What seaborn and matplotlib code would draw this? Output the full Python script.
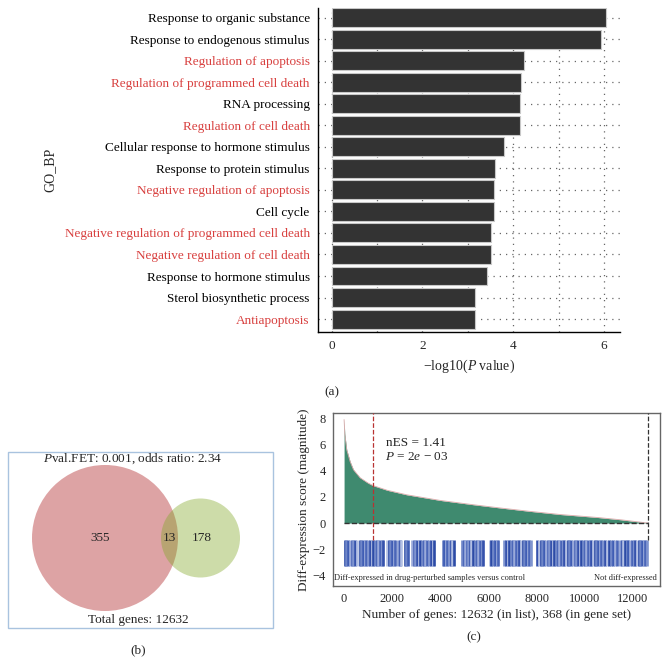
import matplotlib
matplotlib.use("Agg")
import matplotlib.pyplot as plt
from matplotlib.patches import Circle, Rectangle
import pandas as pd
import seaborn as sns

# --- data ---

# (a) GO biological process enrichment
go_terms = [
    "Response to organic substance",
    "Response to endogenous stimulus",
    "Regulation of apoptosis",
    "Regulation of programmed cell death",
    "RNA processing",
    "Regulation of cell death",
    "Cellular response to hormone stimulus",
    "Response to protein stimulus",
    "Negative regulation of apoptosis",
    "Cell cycle",
    "Negative regulation of programmed cell death",
    "Negative regulation of cell death",
    "Response to hormone stimulus",
    "Sterol biosynthetic process",
    "Antiapoptosis",
]
neg_log10_p = [6.04, 5.93, 4.24, 4.17, 4.15, 4.14, 3.79, 3.60, 3.58, 3.57,
               3.52, 3.51, 3.43, 3.15, 3.15]
apoptosis_term = [False, False, True, True, False, True, False, False, True,
                  False, True, True, False, False, True]

# (b) Venn counts
venn_counts = [355, 13, 178]
total_genes = 12632
fet_pval = 0.001
odds_ratio = 2.34

# (c) ranked diff-expression score
rank_x = [0, 30, 110, 250, 390, 665, 1000, 1220, 1800, 2600, 3990, 5370,
          6500, 7740, 9000, 10510, 11500, 12632]
score_y = [7.9, 6.8, 5.6, 4.7, 4.07, 3.46, 3.05, 2.85, 2.5, 2.16, 1.73, 1.4,
           1.15, 0.89, 0.65, 0.43, 0.25, 0.0]
leading_edge = 1200
n_in_set = 368
nes = 1.41
gene_hits = [
    30, 100, 170, 240, 310, 380, 450, 520, 650, 720, 790, 860, 930, 1000,
    1070, 1140, 1210, 1280, 1350, 1420, 1490, 1560, 1630, 1780, 1850, 1920,
    1990, 2060, 2120, 2260, 2330, 2380, 2520, 2590, 2660, 2820, 2890, 2960,
    3030, 3100, 3170, 3240, 3310, 3380, 3450, 3520, 3600, 3680, 3750, 4100,
    4170, 4230, 4290, 4350, 4420, 4490, 4560, 4900, 4960, 5020, 5090, 5150,
    5220, 5290, 5360, 5430, 5500, 5570, 5640, 5710, 5780, 6050, 6120, 6200,
    6280, 6350, 6400, 6650, 6720, 6790, 6860, 6930, 7000, 7070, 7140, 7210,
    7280, 7350, 7420, 7490, 7560, 7630, 7700, 7770, 8030, 8100, 8170, 8240,
    8310, 8380, 8450, 8520, 8590, 8660, 8730, 8800, 8870, 8940, 9010, 9080,
    9150, 9220, 9290, 9360, 9430, 9500, 9570, 9640, 9710, 9780, 9850, 9920,
    9990, 10060, 10130, 10200, 10270, 10340, 10410, 10480, 10550, 10620,
    10690, 10760, 10830, 10900, 10990, 11080, 11170, 11260, 11350, 11440,
    11530, 11600, 11670, 11740, 11810, 11880, 11950, 12020, 12090, 12160,
    12230, 12300, 12370, 12440, 12510, 12580,
]

# --- style ---
sns.set_style("white")
plt.rcParams["font.family"] = ["Liberation Serif", "DejaVu Serif"]
plt.rcParams["mathtext.fontset"] = "custom"
plt.rcParams["mathtext.rm"] = "Liberation Serif"
plt.rcParams["mathtext.it"] = "Liberation Serif:italic"

W, H = 668, 660
fig = plt.figure(figsize=(W / 100, H / 100), dpi=100)


def px_axes(left, top, right, bottom):
    return fig.add_axes([left / W, 1 - bottom / H, (right - left) / W, (bottom - top) / H])


# --- (a) bar chart ---
ax_a = px_axes(318, 8, 620, 332)
df_go = pd.DataFrame({"term": go_terms, "score": neg_log10_p})
sns.barplot(data=df_go, x="score", y="term", color="#333333", saturation=1,
            width=0.88, edgecolor="#c8c8c8", linewidth=0.8, ax=ax_a, zorder=3)
ax_a.set_xlim(-0.3, 6.35)
ax_a.set_ylim(14.6, -0.45)
ax_a.set_xticks([0, 2, 4, 6])
ax_a.set_xticks([1, 3, 5], minor=True)
dots = (0, (1, 4))
ax_a.grid(which="both", axis="x", ls=dots, color="#666666", lw=0.9)
ax_a.grid(axis="y", ls=dots, color="#666666", lw=0.9)
ax_a.set_axisbelow(True)
for side in ["top", "right"]:
    ax_a.spines[side].set_visible(False)
for side in ["left", "bottom"]:
    ax_a.spines[side].set_color("black")
    ax_a.spines[side].set_linewidth(1)
ax_a.tick_params(axis="both", which="major", direction="out", length=3, width=0.8,
                 color="black", labelsize=9.5, pad=3)
ax_a.tick_params(axis="x", which="minor", length=0)
for lbl, red in zip(ax_a.get_yticklabels(), apoptosis_term):
    lbl.set_color("#d8403f" if red else "black")
ax_a.set_xlabel("\u2212log10($P$ value)", fontsize=10, labelpad=4)
ax_a.set_ylabel("GO_BP", fontsize=10)
ax_a.yaxis.set_label_coords((57 - 318) / 302, (332 - 170) / 324)
fig.text(332 / W, 1 - 392 / H, "(a)", ha="center", va="center", fontsize=9.5)

# --- (b) Venn diagram ---
ax_b = px_axes(0, 420, 290, 660)
ax_b.set_xlim(0, 290)
ax_b.set_ylim(660, 420)
ax_b.axis("off")
ax_b.add_patch(Rectangle((8, 452), 265, 176, fill=False, edgecolor="#a9c3df", lw=1))
ax_b.add_patch(Circle((105, 538), 73, facecolor="#ac1a1d", alpha=0.4, lw=0))
ax_b.add_patch(Circle((200.5, 538), 39.5, facecolor="#82a828", alpha=0.4, lw=0))
ax_b.text(100, 538, str(venn_counts[0]), ha="center", va="center", fontsize=9.5)
ax_b.text(169, 538, str(venn_counts[1]), ha="center", va="center", fontsize=9.5)
ax_b.text(202, 538, str(venn_counts[2]), ha="center", va="center", fontsize=9.5)
ax_b.text(133, 459, f"$P$val.FET: {fet_pval}, odds ratio: {odds_ratio}",
          ha="center", va="center", fontsize=9.5)
ax_b.text(138, 620, f"Total genes: {total_genes}", ha="center", va="center", fontsize=9.5)
ax_b.text(138, 650, "(b)", ha="center", va="center", fontsize=9.5)

# --- (c) enrichment plot ---
ax_c = px_axes(333, 413, 660, 586)
ax_c.fill_between(rank_x, score_y, 0, color="#3f8a6f", lw=0, zorder=2)
ax_c.plot(rank_x, score_y, color="#d9a9a9", lw=0.6, zorder=3)
ax_c.hlines(0, 0, total_genes, colors="#333333", linestyles="--", lw=1, zorder=4)
ax_c.vlines(leading_edge, -1.3, 8.4, colors="#b83232", linestyles="--", lw=0.9, zorder=4)
ax_c.vlines(total_genes, -1.3, 8.4, colors="#333333", linestyles="--", lw=0.9, zorder=4)
shades = ["#2c4ba6", "#6f86c8", "#3f5db4", "#9aaada", "#4a66b8", "#7f94cf", "#3552ac", "#b3c0e4"]
hit_colors = [shades[i % len(shades)] for i in range(len(gene_hits))]
ax_c.vlines(gene_hits, -3.3, -1.3, colors=hit_colors, lw=1.9, zorder=2)
ax_c.set_xlim(-460, 13120)
ax_c.set_ylim(-4.8, 8.4)
ax_c.set_xticks([0, 2000, 4000, 6000, 8000, 10000, 12000])
ax_c.set_yticks([-4, -2, 0, 2, 4, 6, 8])
for side in ax_c.spines.values():
    side.set_color("#666666")
    side.set_linewidth(1)
ax_c.tick_params(direction="out", length=3, width=0.8, color="black", labelsize=9, pad=2)
ax_c.text(1730, 6.1, f"nES = {nes}", ha="left", va="center", fontsize=9.5)
ax_c.text(1680, 5.04, "$P$ = 2$e$ \u2212 03", ha="left", va="center", fontsize=9.5)
ax_c.text(-420, -4.2, "Diff-expressed in drug-perturbed samples versus control",
          ha="left", va="center", fontsize=6)
ax_c.text(12990, -4.2, "Not diff-expressed", ha="right", va="center", fontsize=6)
ax_c.set_xlabel(f"Number of genes: {total_genes} (in list), {n_in_set} (in gene set)",
                fontsize=9.5, labelpad=3)
ax_c.set_ylabel("Diff-expression score (magnitude)", fontsize=9.5, labelpad=2)
fig.text(474 / W, 1 - 637 / H, "(c)", ha="center", va="center", fontsize=9.5)

fig.savefig("out.png", dpi=100)
